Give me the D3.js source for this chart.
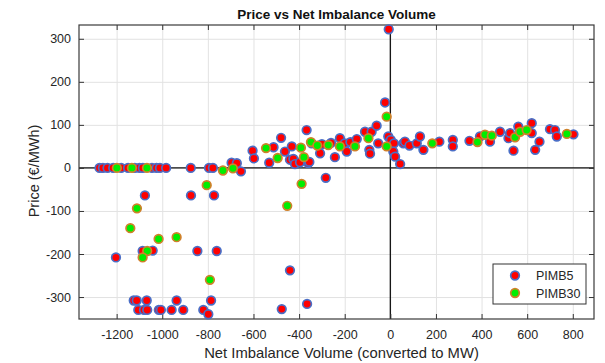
<!DOCTYPE html>
<html>
<head>
<meta charset="utf-8">
<script src="https://cdn.jsdelivr.net/npm/d3@7"></script>
<style>
  html, body { margin: 0; padding: 0; background: #fff; }
  svg { display: block; font-family: "Liberation Sans", Arial, Helvetica, sans-serif; }
</style>
</head>
<body>
<svg id="chart" width="605" height="363"></svg>
<script>
// Imbalance price against net imbalance volume, two pricing rules.
const pimb5Volume = [
  -1275, -1260, -1240, -1215, -1180, -1150, -1120, -1100, -1085, -1045, -1025, -1010, -983,
  -875, -795, -778, -696, -673, -655, -604, -598,
  -531, -512, -479, -462, -432, -440, -425, -418, -396, -367, -360, -355, -345, -308,
  -300, -283, -260, -243, -221, -200, -191, -175, -147, -111, -82, -60, -92, -89, -53,
  -23, -7, -9, 2, 16, 13, 21, 43, 57, 64, 84, 116, 130, 145, 215, 274, 274, 347,
  393, 437, 481, 518, 525, 540, 561, 620, 620, 635, 654, 700, 722, 730, 803,
  -1076, -874, -773, -1203, -1086, -1042, -846, -761,
  -1125, -1112, -1068, -937, -786, -1105, -1080, -1066, -1015, -1006, -959, -908, -820, -798,
  -440, -365, -476
];
const pimb5Price = [
  0, 0, 0, 0, 0, 0, 0, 0, 0, 0, 0, 0, 0,
  0, 0, 0, 12, 11, -8, 40, 22,
  12, 48, 70, 38, 50, 19, 21, 9, 13, 88, 11, 14, 57, 34,
  55, -23, 58, 25, 69, 57, 38, 60, 67, 84, 84, 98, 42, 33, 57,
  152, 322, 73, 65, 57, 38, 26, 9, 57, 61, 52, 57, 73, 42, 61, 65, 50, 63,
  73, 61, 84, 69, 81, 40, 96, 104, 81, 42, 61, 90, 88, 73, 78,
  -64, -64, -64, -208, -193, -192, -193, -193,
  -308, -308, -308, -308, -308, -330, -330, -330, -330, -330, -330, -330, -330, -340,
  -238, -316, -328
];
const pimb30Volume = [
  -1199, -1133, -1067, -734, -690, -805, -1111, -1140, -1016, -937, -1066, -1086, -791,
  -389, -452, -16, -545, -494, -392, -379, -348, -320, -272, -221, -155, -96, -16,
  184, 382, 415, 445, 547, 569, 598, 774
];
const pimb30Price = [
  0, 0, 0, -6, -1, -40, -94, -140, -165, -161, -193, -208, -260,
  -37, -88, 119, 46, 23, 47, 25, 60, 52, 53, 50, 50, 69, 50,
  57, 60, 77, 75, 71, 84, 88, 79
];
const xTicks = [-1200, -1000, -800, -600, -400, -200, 0, 200, 400, 600, 800];
const yTicks = [-300, -200, -100, 0, 100, 200, 300];
const seriesNames = ["PIMB5", "PIMB30"];

const svg = d3.select("#chart");
const plot = { left: 79, right: 594, top: 25, bottom: 319 };

const x = d3.scaleLinear().domain([-1365, 893]).range([plot.left, plot.right]);
const y = d3.scaleLinear().domain([-351, 332]).range([plot.bottom, plot.top]);
const fmt = d => String(d);

// background
svg.append("rect").attr("x", plot.left).attr("y", plot.top)
  .attr("width", plot.right - plot.left).attr("height", plot.bottom - plot.top)
  .attr("fill", "#fff");

// grid
const gridX = svg.append("g").attr("transform", `translate(0,${plot.bottom})`)
  .call(d3.axisBottom(x).tickValues(xTicks).tickSize(-(plot.bottom - plot.top)).tickFormat(""));
const gridY = svg.append("g").attr("transform", `translate(${plot.left},0)`)
  .call(d3.axisLeft(y).tickValues(yTicks).tickSize(-(plot.right - plot.left)).tickFormat(""));
[gridX, gridY].forEach(g => {
  g.select(".domain").remove();
  g.selectAll("line").attr("stroke", "#e2e2e2").attr("stroke-width", 1);
});

// zero lines
svg.append("line").attr("x1", plot.left).attr("x2", plot.right)
  .attr("y1", y(0)).attr("y2", y(0)).attr("stroke", "#111").attr("stroke-width", 1.3);
svg.append("line").attr("x1", x(0)).attr("x2", x(0))
  .attr("y1", plot.top).attr("y2", plot.bottom).attr("stroke", "#111").attr("stroke-width", 1.3);

// inward ticks on all four sides
const tickAxes = [
  svg.append("g").attr("transform", `translate(0,${plot.bottom})`)
    .call(d3.axisBottom(x).tickValues(xTicks).tickSizeInner(-5).tickSizeOuter(0).tickFormat("")),
  svg.append("g").attr("transform", `translate(0,${plot.top})`)
    .call(d3.axisTop(x).tickValues(xTicks).tickSizeInner(-5).tickSizeOuter(0).tickFormat("")),
  svg.append("g").attr("transform", `translate(${plot.left},0)`)
    .call(d3.axisLeft(y).tickValues(yTicks).tickSizeInner(-5).tickSizeOuter(0).tickFormat("")),
  svg.append("g").attr("transform", `translate(${plot.right},0)`)
    .call(d3.axisRight(y).tickValues(yTicks).tickSizeInner(-5).tickSizeOuter(0).tickFormat(""))
];
tickAxes.forEach(g => {
  g.select(".domain").remove();
  g.selectAll("line").attr("stroke", "#333").attr("stroke-width", 1);
});

// tick labels
const xLab = svg.append("g").attr("transform", `translate(0,${plot.bottom})`)
  .call(d3.axisBottom(x).tickValues(xTicks).tickSize(0).tickPadding(11).tickFormat(fmt));
const yLab = svg.append("g").attr("transform", `translate(${plot.left},0)`)
  .call(d3.axisLeft(y).tickValues(yTicks).tickSize(0).tickPadding(8).tickFormat(fmt));
[xLab, yLab].forEach(g => {
  g.select(".domain").remove();
  g.selectAll("text").attr("font-size", "12.5px").attr("fill", "#262626")
    .attr("font-family", "'Liberation Sans', Arial, sans-serif");
});

// plot frame
svg.append("rect").attr("x", plot.left).attr("y", plot.top)
  .attr("width", plot.right - plot.left).attr("height", plot.bottom - plot.top)
  .attr("fill", "none").attr("stroke", "#3a3a3a").attr("stroke-width", 1.2);

// markers
const pts5 = pimb5Volume.map((v, i) => ({ v, p: pimb5Price[i] }));
const pts30 = pimb30Volume.map((v, i) => ({ v, p: pimb30Price[i] }));

svg.append("g").selectAll("circle").data(pts5).join("circle")
  .attr("cx", d => x(d.v)).attr("cy", d => y(d.p)).attr("r", 4.3)
  .attr("fill", "#ff0000").attr("stroke", "#4a6ec6").attr("stroke-width", 1.7);
svg.append("g").selectAll("circle").data(pts30).join("circle")
  .attr("cx", d => x(d.v)).attr("cy", d => y(d.p)).attr("r", 4.3)
  .attr("fill", "#00ee00").attr("stroke", "#d0802a").attr("stroke-width", 1.7);

// titles
svg.append("text").attr("x", (plot.left + plot.right) / 2).attr("y", 19)
  .attr("text-anchor", "middle").attr("font-size", "13.5px").attr("font-weight", "bold")
  .attr("fill", "#111").text("Price vs Net Imbalance Volume");
svg.append("text").attr("x", (plot.left + plot.right) / 2 + 5).attr("y", 358)
  .attr("text-anchor", "middle").attr("font-size", "14.8px")
  .attr("fill", "#262626").text("Net Imbalance Volume (converted to MW)");
svg.append("text").attr("transform", `translate(39,${(plot.top + plot.bottom) / 2 - 1}) rotate(-90)`)
  .attr("text-anchor", "middle").attr("font-size", "14.5px")
  .attr("fill", "#262626").text("Price (€/MWh)");

// legend
const legend = svg.append("g").attr("transform", "translate(493,264)");
legend.append("rect").attr("width", 93).attr("height", 40)
  .attr("fill", "#fff").attr("stroke", "#333").attr("stroke-width", 1);
const legendStyles = [
  { fill: "#ff0000", stroke: "#4a6ec6" },
  { fill: "#00ee00", stroke: "#d0802a" }
];
seriesNames.forEach((name, i) => {
  const row = legend.append("g").attr("transform", `translate(0,${11.5 + i * 17.5})`);
  row.append("circle").attr("cx", 22).attr("cy", 0).attr("r", 4.3)
    .attr("fill", legendStyles[i].fill).attr("stroke", legendStyles[i].stroke).attr("stroke-width", 1.7);
  row.append("text").attr("x", 43).attr("y", 4.5).attr("font-size", "12.5px")
    .attr("fill", "#262626").text(name);
});
</script>
</body>
</html>
